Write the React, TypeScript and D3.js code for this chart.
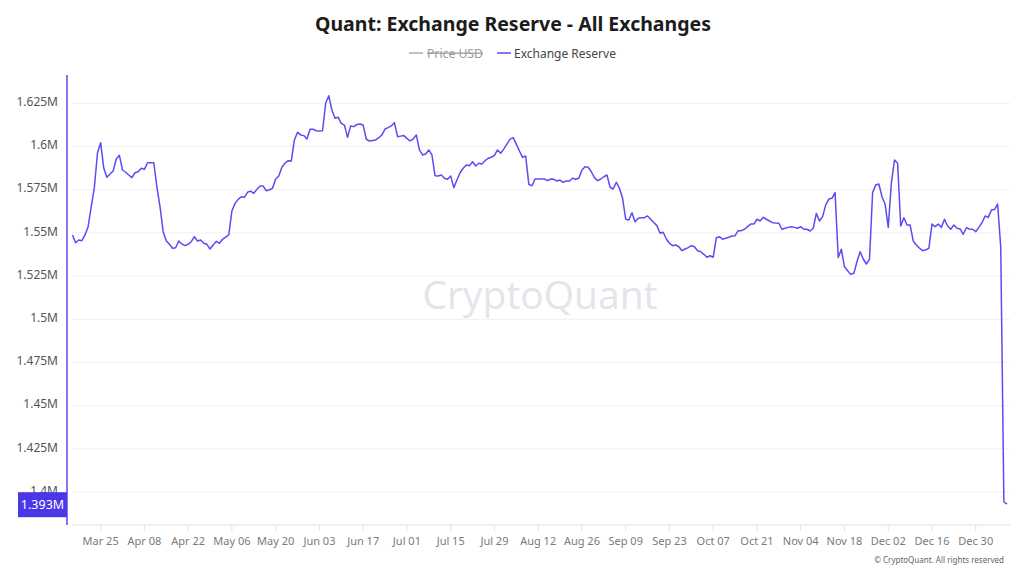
import React from "react";
import * as d3 from "d3";

// Daily exchange reserve (millions QNT), starting 2024-03-16, one value per day
const startDate = "2024-03-16";
const reserveValues: number[] = [
  // Mar 16 - Mar 25
  1.5488, 1.5443, 1.5459, 1.5455, 1.5488, 1.5536, 1.5652, 1.5764, 1.5964, 1.6022,
  // Mar 26 - Apr 04
  1.5875, 1.5822, 1.5841, 1.5858, 1.5928, 1.5949, 1.5864, 1.5851, 1.5835, 1.582,
  // Apr 05 - Apr 14
  1.5848, 1.5854, 1.5874, 1.5868, 1.5906, 1.5906, 1.5906, 1.5767, 1.5652, 1.5507,
  // Apr 15 - Apr 24
  1.5455, 1.5434, 1.5411, 1.5414, 1.5453, 1.5436, 1.5426, 1.5434, 1.5449, 1.5478,
  // Apr 25 - May 04
  1.5453, 1.5459, 1.544, 1.5434, 1.5407, 1.543, 1.5451, 1.544, 1.5463, 1.5476,
  // May 05 - May 14
  1.5488, 1.5627, 1.5671, 1.5694, 1.5709, 1.5706, 1.5735, 1.5742, 1.5729, 1.5752,
  // May 15 - May 24
  1.5771, 1.5771, 1.5744, 1.575, 1.5758, 1.5812, 1.5829, 1.588, 1.5903, 1.5918,
  // May 25 - Jun 03
  1.5916, 1.6038, 1.6082, 1.6067, 1.6063, 1.6043, 1.61, 1.61, 1.6091, 1.609,
  // Jun 04 - Jun 13
  1.6091, 1.625, 1.6294, 1.6211, 1.6163, 1.6169, 1.6134, 1.6124, 1.6053, 1.6119,
  // Jun 14 - Jun 23
  1.6115, 1.6128, 1.613, 1.6124, 1.6042, 1.6032, 1.6035, 1.6038, 1.6051, 1.6067,
  // Jun 24 - Jul 03
  1.6101, 1.6109, 1.6119, 1.6138, 1.6057, 1.606, 1.6063, 1.6047, 1.6032, 1.6043,
  // Jul 04 - Jul 13
  1.6067, 1.598, 1.5951, 1.5957, 1.598, 1.5951, 1.5831, 1.5829, 1.5835, 1.5816,
  // Jul 14 - Jul 23
  1.581, 1.5829, 1.5762, 1.5806, 1.5848, 1.5874, 1.5893, 1.5889, 1.5912, 1.5887,
  // Jul 24 - Aug 02
  1.5903, 1.5899, 1.5918, 1.5932, 1.5938, 1.5948, 1.598, 1.5961, 1.5986, 1.6014,
  // Aug 03 - Aug 12
  1.6043, 1.6051, 1.6014, 1.5974, 1.5937, 1.5945, 1.5781, 1.5773, 1.5812, 1.5812,
  // Aug 13 - Aug 22
  1.5812, 1.5812, 1.5802, 1.5812, 1.581, 1.58, 1.5806, 1.5793, 1.58, 1.58,
  // Aug 23 - Sep 01
  1.5816, 1.581, 1.5816, 1.5864, 1.5883, 1.588, 1.5854, 1.582, 1.5802, 1.5812,
  // Sep 02 - Sep 11
  1.5825, 1.5835, 1.5764, 1.5754, 1.5793, 1.5758, 1.57, 1.5579, 1.5575, 1.5617,
  // Sep 12 - Sep 21
  1.5565, 1.5585, 1.5588, 1.5588, 1.5598, 1.5579, 1.556, 1.5542, 1.5498, 1.5504,
  // Sep 22 - Oct 01
  1.5465, 1.544, 1.5426, 1.543, 1.542, 1.5397, 1.5407, 1.5415, 1.5426, 1.542,
  // Oct 02 - Oct 11
  1.5397, 1.5391, 1.5376, 1.5359, 1.5368, 1.5359, 1.5472, 1.5478, 1.5463, 1.5469,
  // Oct 12 - Oct 21
  1.5475, 1.5482, 1.5484, 1.5513, 1.5513, 1.5521, 1.5536, 1.5551, 1.5551, 1.5579,
  // Oct 22 - Oct 31
  1.5569, 1.559, 1.5579, 1.5569, 1.5559, 1.5557, 1.5556, 1.5521, 1.5527, 1.5532,
  // Nov 01 - Nov 10
  1.5536, 1.5532, 1.5527, 1.5536, 1.5521, 1.5521, 1.5511, 1.5527, 1.5613, 1.5569,
  // Nov 11 - Nov 20
  1.5594, 1.5662, 1.5696, 1.57, 1.5733, 1.5357, 1.5405, 1.5304, 1.5281, 1.526,
  // Nov 21 - Nov 30
  1.5266, 1.5333, 1.5391, 1.5349, 1.532, 1.5347, 1.5733, 1.5777, 1.5783, 1.5709,
  // Dec 01 - Dec 10
  1.5666, 1.5532, 1.5787, 1.5922, 1.5903, 1.554, 1.5588, 1.5546, 1.5546, 1.5453,
  // Dec 11 - Dec 20
  1.543, 1.5411, 1.5397, 1.5402, 1.5411, 1.5551, 1.5536, 1.5551, 1.5532, 1.5579,
  // Dec 21 - Dec 30
  1.554, 1.5521, 1.5546, 1.5527, 1.5523, 1.5492, 1.553, 1.5523, 1.5521, 1.5507,
  // Dec 31 - Jan 09
  1.5532, 1.5559, 1.5598, 1.559, 1.5632, 1.5636, 1.5667, 1.5415, 1.3944, 1.393,
];

const yTickValues = [1.4, 1.425, 1.45, 1.475, 1.5, 1.525, 1.55, 1.575, 1.6, 1.625];
const firstTickDate = "2024-03-25";
const tickStepDays = 14;
const titleText = "Quant: Exchange Reserve - All Exchanges";
const legendItems = ["Price USD", "Exchange Reserve"];
const lastValueLabel = "1.393M";

const W = 1024;
const H = 573;
const LINE_COLOR = "#5b4cf2";
const FONT = "'Noto Sans', 'Open Sans', sans-serif";

function parseDay(s: string) {
  const [y, m, d] = s.split("-").map(Number);
  return new Date(y, m - 1, d);
}

export default function App() {
  const start = parseDay(startDate);
  const data = reserveValues.map((v, i) => ({ date: d3.timeDay.offset(start, i), value: v }));
  const last = data[data.length - 1];

  const plotLeft = 67;
  const plotRight = 1010;
  const plotTop = 75;
  const plotBottom = 525;

  const x = d3
    .scaleTime()
    .domain([data[0].date, last.date])
    .range([72.5, 1007]);
  const y = d3.scaleLinear().domain([1.4, 1.625]).range([492.1, 103.3]);

  const line = d3
    .line<{ date: Date; value: number }>()
    .x((d) => x(d.date))
    .y((d) => y(d.value))
    .curve(d3.curveLinear);

  const xTicks = d3.timeDay.range(parseDay(firstTickDate), last.date, tickStepDays);
  const fmtX = d3.timeFormat("%b %d");
  const fmtY = (v: number) => `${+v.toFixed(3)}M`;

  return (
    <svg
      width={W}
      height={H}
      style={{ position: "absolute", left: 0, top: 0, background: "#fff", fontFamily: FONT }}
    >
      <rect x={0} y={0} width={W} height={H} fill="#ffffff" />
      {/* title */}
      <text x={513} y={31} textAnchor="middle" fontSize={19.5} fontWeight={700} fill="#1c1c1c">
        {titleText}
      </text>
      {/* legend */}
      <line x1={409} x2={423} y1={53} y2={53} stroke="#aaaaaa" strokeWidth={1.5} />
      <text x={427} y={57.5} fontSize={12.2} fill="#9a9a9a" textDecoration="line-through">
        {legendItems[0]}
      </text>
      <line x1={497} x2={511} y1={53} y2={53} stroke={LINE_COLOR} strokeWidth={1.5} />
      <text x={514} y={57.5} fontSize={12} fill="#444">
        {legendItems[1]}
      </text>

      {/* watermark */}
      <text
        x={540}
        y={309}
        textAnchor="middle"
        fontSize={39}
        fontWeight={500}
        fill="#e4e4ea"
        fontFamily="'Open Sans', 'Noto Sans', sans-serif"
      >
        CryptoQuant
      </text>

      {/* grid lines and y labels */}
      {yTickValues.map((v) => (
        <g key={v}>
          <line x1={72} x2={plotRight} y1={y(v)} y2={y(v)} stroke="#f1f1f3" strokeWidth={1} />
          <text x={58} y={y(v) - 1.5} dy="0.35em" textAnchor="end" fontSize={12} fill="#555">
            {fmtY(v)}
          </text>
        </g>
      ))}

      {/* x axis */}
      <line x1={72} x2={plotRight} y1={plotBottom} y2={plotBottom} stroke="#dfe0e6" strokeWidth={1} />
      {xTicks.map((t) => (
        <g key={+t}>
          <line x1={x(t)} x2={x(t)} y1={plotBottom} y2={plotBottom + 6} stroke="#dfe0e6" />
          <text x={x(t)} y={545} textAnchor="middle" fontSize={11} fill="#7a7a7a">
            {fmtX(t)}
          </text>
        </g>
      ))}

      {/* series */}
      <path d={line(data) || ""} fill="none" stroke={LINE_COLOR} strokeWidth={1.5} strokeLinejoin="round" />

      {/* left axis */}
      <line x1={plotLeft} x2={plotLeft} y1={plotTop} y2={plotBottom} stroke={LINE_COLOR} strokeWidth={1.5} />

      {/* last value label */}
      <rect x={18} y={y(last.value) - 12} width={plotLeft - 18} height={25} fill="#4b36e8" />
      <text x={42.5} y={y(last.value)} dy="0.36em" textAnchor="middle" fontSize={12.5} fill="#ffffff">
        {lastValueLabel}
      </text>

      {/* copyright */}
      <text x={1004} y={563} textAnchor="end" fontSize={8} fill="#666">
        © CryptoQuant. All rights reserved
      </text>
    </svg>
  );
}
